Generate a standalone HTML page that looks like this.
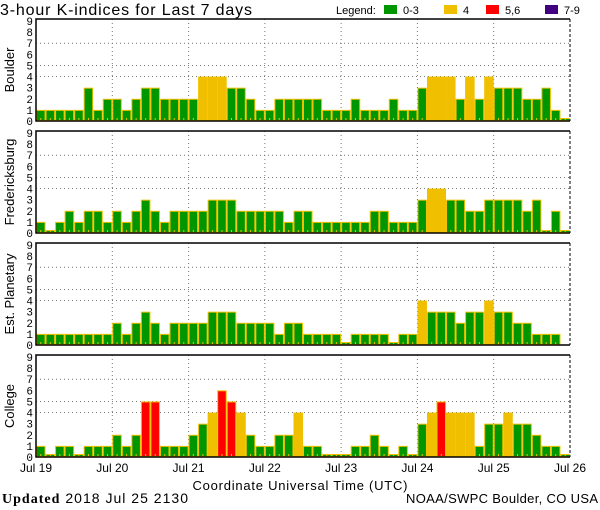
<!DOCTYPE html>
<html><head><meta charset="utf-8"><style>
body{margin:0;background:#fff;width:600px;height:510px;overflow:hidden}
svg{display:block;font-family:"Liberation Sans",sans-serif}
</style></head><body>
<svg id="c" width="600" height="510">
<text x="0" y="15" font-size="16" letter-spacing="1" textLength="253">3-hour K-indices for Last 7 days</text>
<g font-size="11">
<text x="336" y="14">Legend:</text>
<rect x="384" y="5" width="13" height="9" fill="#009600"/>
<text x="403" y="14">0-3</text>
<rect x="444" y="5" width="13" height="9" fill="#f0c000"/>
<text x="463" y="14">4</text>
<rect x="486" y="5" width="13" height="9" fill="#ff0000"/>
<text x="505" y="14">5,6</text>
<rect x="545" y="5" width="13" height="9" fill="#400080"/>
<text x="564" y="14">7-9</text>
</g>
<text x="300" y="490" font-size="13" text-anchor="middle" textLength="215">Coordinate Universal Time (UTC)</text>
<text x="2" y="503" font-size="14" textLength="186"><tspan font-family="Liberation Serif,serif" font-weight="bold">Updated</tspan> 2018 Jul 25 2130</text>
<text x="598" y="503" font-size="13" text-anchor="end" textLength="192">NOAA/SWPC Boulder, CO USA</text>
</svg>
<script>
const stations = ["Boulder","Fredericksburg","Est. Planetary","College"];
const boulder = [1,1,1,1,1,3,1,2,2,1,2,3,3,2,2,2,2,4,4,4,3,3,2,1,1,2,2,2,2,2,1,1,1,2,1,1,1,2,1,1,3,4,4,4,2,4,2,4,3,3,3,2,2,3,1,0];
const fredericksburg = [1,0,1,2,1,2,2,1,2,1,2,3,2,1,2,2,2,2,3,3,3,2,2,2,2,2,1,2,2,1,1,1,1,1,1,2,2,1,1,1,3,4,4,3,3,2,2,3,3,3,3,2,3,0,2,0];
const planetary = [1,1,1,1,1,1,1,1,2,1,2,3,2,1,2,2,2,2,3,3,3,2,2,2,2,1,2,2,1,1,1,1,0,1,1,1,1,0,1,1,4,3,3,3,2,3,3,4,3,3,2,2,1,1,1,null];
const college = [1,0,1,1,0,1,1,1,2,1,2,5,5,1,1,1,2,3,4,6,5,4,2,1,1,2,2,4,1,1,0,0,0,1,1,2,1,0,1,0,3,4,5,4,4,4,1,3,3,4,3,3,2,1,1,0];
const seriesList = [boulder,fredericksburg,planetary,college];
const dayLabels = ["Jul 19","Jul 20","Jul 21","Jul 22","Jul 23","Jul 24","Jul 25","Jul 26"];
const yTicks = [0,1,2,3,4,5,6,7,8,9];
const gridLevels = [4,5,7];

const NS="http://www.w3.org/2000/svg";
const svg=document.getElementById('c');
const X0=36,X1=570,N=56;
const bw=(X1-X0)/N;
const panelTop=[19,131,243,355], PH=102;
function xs(i){return X0+i*bw;}
function xday(d){return X0+d*(X1-X0)/7;}
function color(v){return v<=3?"#009600":v==4?"#f0c000":v<=6?"#ff0000":"#400080";}
function mk(tag,attrs,parent){const e=document.createElementNS(NS,tag);for(const k in attrs)e.setAttribute(k,attrs[k]);(parent||svg).appendChild(e);return e;}

seriesList.forEach((data,p)=>{
  const top=panelTop[p],bot=top+PH;
  const ys=v=>bot-v*(PH-2)/9;
  const g=mk('g',{});
  
  
  gridLevels.forEach(l=>{
    const ln=mk('line',{x1:X0,x2:X1,y1:ys(l),y2:ys(l),stroke:"#777","stroke-dasharray":"1,3"},g);
    
    
  });
  for(let d=1;d<7;d++){
    const ln=mk('line',{x1:xday(d),x2:xday(d),y1:top,y2:bot,stroke:"#777","stroke-dasharray":"1,3"},g);
    
    
  }
  data.forEach((v,i)=>{
    if(v===null)return;
    const h=v===0?3:v*(PH-2)/9;
    const r=mk('rect',{x:xs(i)+0.5,y:bot-h+0.5,width:bw-1,height:h-1,fill:color(v),stroke:"#f0c000","stroke-width":1},g);
    
    
    mk('line',{x1:xs(i)+bw/2,x2:xs(i)+bw/2,y1:bot-3,y2:bot,stroke:"#f0c000"},g);
  });
  mk('path',{d:`M${X1},${top} H${X0} V${bot} H${X1}`,fill:"none",stroke:"#000","stroke-width":1.5},g);
  mk('line',{x1:X1,x2:X1,y1:top,y2:bot,stroke:"#000","stroke-dasharray":"3,2"},g);
  yTicks.forEach(t=>{
    const tx=mk('text',{x:33,y:ys(t)+4,"font-size":11,"text-anchor":"end","font-family":"Liberation Mono,monospace"},g);
    tx.textContent=t;
    
    
  });
  const lab=mk('text',{x:0,y:0,"font-size":13,"text-anchor":"middle",transform:`translate(14,${top+PH/2}) rotate(-90)`},g);
  lab.textContent=stations[p];
  
  
});
dayLabels.forEach((d,i)=>{
  const t=mk('text',{x:xday(i),y:472,"font-size":12,"text-anchor":"middle"});
  t.textContent=d;
  
  
});
</script>
</body></html>
